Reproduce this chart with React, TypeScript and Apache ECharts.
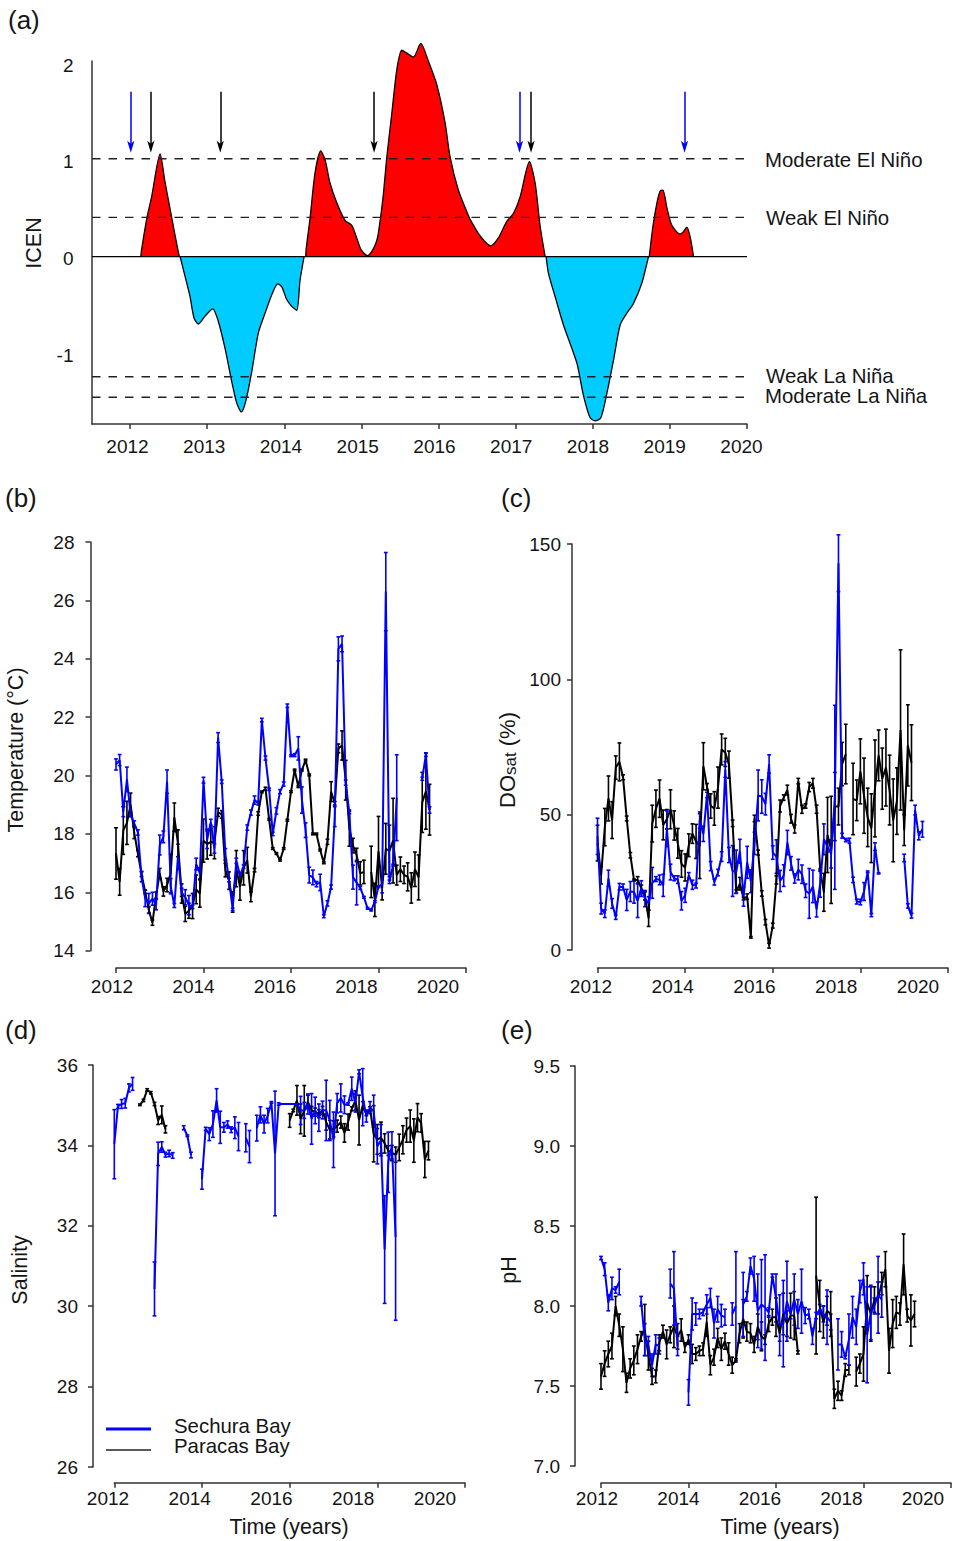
import { useEffect, useRef } from "react";
import * as echarts from "echarts";

const n = null;
const FONT = '"Liberation Sans", Arial, sans-serif';
const TEXT = "#151515";
const AXIS = "#333333";
const BLUE = "#0000ff";
const BLACK = "#000000";

// narrow barbed head, the two empty moves only widen its box
const ARROW_HEAD = "path://M0 5L0 5M10 5L10 5M5 0L8 10L5 7.5L2 10Z";

// ICEN index, one list per warm / cold lobe: [year, index]
const warm1 = [[2012.14, 0], [2012.15, 0.07], [2012.22, 0.4], [2012.28, 0.61], [2012.39, 1.05], [2012.45, 0.78], [2012.54, 0.4], [2012.62, 0.07], [2012.64, 0]];
const cold1 = [[2012.649, 0], [2012.713, -0.2], [2012.778, -0.41], [2012.83, -0.63], [2012.886, -0.69], [2012.973, -0.61], [2013.073, -0.535], [2013.145, -0.665], [2013.232, -0.94], [2013.319, -1.28], [2013.384, -1.5], [2013.444, -1.59], [2013.504, -1.47], [2013.578, -1.18], [2013.664, -0.78], [2013.751, -0.58], [2013.838, -0.39], [2013.916, -0.28], [2013.968, -0.31], [2014.032, -0.44], [2014.097, -0.51], [2014.162, -0.55], [2014.205, -0.24], [2014.257, 0]];
const warm2 = [[2014.279, 0], [2014.283, 0.07], [2014.335, 0.396], [2014.399, 0.857], [2014.473, 1.08], [2014.529, 0.99], [2014.594, 0.75], [2014.681, 0.55], [2014.788, 0.37], [2014.875, 0.32], [2014.94, 0.19], [2014.996, 0.07], [2015.077, 0.01], [2015.134, 0.05], [2015.19, 0.14], [2015.22, 0.24], [2015.28, 0.6], [2015.33, 1.02], [2015.394, 1.46], [2015.459, 1.91], [2015.524, 2.11], [2015.59, 2.08], [2015.674, 2.04], [2015.77, 2.18], [2015.868, 2.0], [2015.977, 1.76], [2016.085, 1.37], [2016.15, 1.02], [2016.257, 0.68], [2016.366, 0.46], [2016.41, 0.38], [2016.54, 0.21], [2016.678, 0.11], [2016.776, 0.19], [2016.885, 0.36], [2016.971, 0.44], [2017.058, 0.61], [2017.179, 0.97], [2017.253, 0.75], [2017.318, 0.31], [2017.383, 0]];
const cold2 = [[2017.396, 0], [2017.425, -0.17], [2017.512, -0.41], [2017.62, -0.7], [2017.794, -1.09], [2017.879, -1.42], [2017.966, -1.65], [2018.031, -1.68], [2018.105, -1.65], [2018.183, -1.4], [2018.269, -1.06], [2018.355, -0.7], [2018.442, -0.58], [2018.528, -0.48], [2018.637, -0.27], [2018.702, -0.07], [2018.723, 0]];
const warm3 = [[2018.733, 0], [2018.78, 0.31], [2018.832, 0.55], [2018.874, 0.67], [2018.91, 0.68], [2018.961, 0.5], [2019.025, 0.32], [2019.133, 0.23], [2019.17, 0.25], [2019.22, 0.3], [2019.263, 0.2], [2019.306, 0]];
const icenThresholds = [1, 0.4, -1.23, -1.44];
const sechuraArrows = [2012.01, 2017.05, 2019.19];
const paracasArrows = [2012.27, 2013.17, 2015.165, 2017.2];

// Monthly means and error half-widths from January 2012
const tempSechura = [
  20.38, 20.53, 18.76, 19.87, 18.66, 18.36, 18.05, 16.53, 15.79, 15.62,
  15.78, 15.58, 17.62, 17.9, 19.79, 16.21, 15.55, 17.22, 16.0, 15.83,
  15.56, 15.5, 16.97, 16.65, 19.84, 17.8, 18.4, 17.5, 21.3, 19.79,
  17.3, 16.42, 15.42, 17.08, 16.59, 16.88, 18.22, 18.73, 19.16, 19.05,
  21.9, 20.6, 19.53, 18.0, 18.79, 19.45, 19.71, 22.39, 20.68, 20.7,
  20.93, 19.16, 18.13, 16.59, 16.51, 16.28, 16.34, 15.18, 15.62, 16.18,
  18.59, 24.34, 24.51, 19.76, 18.73, 16.52, 16.33, 16.15, 15.83, 15.45,
  15.39, 15.68, 16.19, 16.28, 26.3, 16.36, 16.93, 19.24, n, n,
  n, n, n, n, 19.89, 20.72, 18.82,
];
const tempSechuraErr = [
  0.19, 0.19, 0.17, 0.42, 0.07, 0.09, 0.09, 0.17, 0.28, 0.34,
  0.22, 0.18, 0.34, 0.2, 0.4, 0.26, 0.07, 0.43, 0.14, 0.26,
  0.33, 0.06, 0.2, 0.19, 0.1, 0.3, 0.1, 0.16, 0.17, 0.06,
  0.2, 0.06, 0.04, 0.09, 0.06, 0.06, 0.09, 0.09, 0.14, 0.06,
  0.06, 0.07, 0.04, 0.06, 0.11, 0.07, 0.07, 0.06, 0.03, 0.05,
  0.4, 0.45, 0.25, 0.27, 0.25, 0.09, 0.28, 0.05, 0.09, 0.07,
  0.34, 0.41, 0.27, 0.09, 0.04, 0.41, 0.76, 0.05, 0.03, 0.03,
  0.03, 0.03, 0.03, 0.3, 1.34, 0.06, 0.03, 1.47, 0, 0,
  0, 0, 0, 0, 0.05, 0.06, 0.11,
];
const tempParacas = [
  17.33, 16.36, 18.12, 18.38, 19.0, 18.04, 17.33, 16.63, 16.02, 15.39,
  14.96, 15.9, 16.65, 16.03, 16.25, 16.65, 18.57, 17.68, 15.96, 15.26,
  15.37, 15.53, 16.1, 15.96, 17.77, 17.65, 17.73, 17.7, 18.74, 18.67,
  16.76, 16.4, 15.67, 16.81, 16.19, 16.84, 17.1, 15.85, 16.76, 18.7,
  19.44, 19.55, 18.5, 17.5, 17.33, 17.1, 17.5, 18.47, 19.45, 20.19,
  19.62, 20.19, 20.53, 20.02, 18.0, 18.0, 17.45, 17.01, 17.73, 19.45,
  19.05, 20.93, 21.03, 19.84, 18.2, 17.6, 17.28, 16.65, 16.7, n,
  16.7, 15.74, 17.4, 16.15, 17.49, 17.42, 17.77, 16.59, 16.79, 16.6,
  16.53, 16.15, 16.79, 16.51, 19.08, 19.46, 18.83,
];
const tempParacasErr = [
  0.88, 0.46, 0.82, 0.74, 0.4, 0.2, 0.11, 0.09, 0.06, 0.11,
  0.09, 0.11, 0.17, 0.16, 0.23, 0.66, 0.49, 0.46, 0.33, 0.26,
  0.26, 0.43, 0.49, 0.47, 0.74, 0.51, 0.46, 0.55, 0.14, 0.13,
  0.23, 0.3, 0.35, 0.62, 0.46, 0.59, 0.44, 0.17, 0.06, 0.06,
  0.03, 0.05, 0.03, 0.03, 0.03, 0.03, 0.03, 0.03, 0.03, 0.03,
  0.03, 0.03, 0.03, 0.03, 0.03, 0.03, 0.03, 0.03, 0.09, 0.34,
  0.06, 0.15, 0.5, 0.68, 0.62, 0.25, 0.23, 0.4, 0.4, 0,
  0.88, 0.57, 1.2, 0.41, 0.87, 0.88, 1.45, 0.34, 0.42, 0.3,
  0.48, 0.52, 0.59, 0.77, 1.03, 1.3, 0.87,
];
const doSechura = [
  42.0, 15.3, 13.4, 26.5, 17.2, 12.1, 23.4, 23.3, 18.5, 21.6,
  21.4, 18.2, 22.7, 19, 17.2, 24.8, 26.2, 25.9, 23.9, 44.8,
  28.8, 26.5, 26, 18.2, 20.2, 27.6, 24.1, 23.8, 48, 42.9,
  57.3, 31, 25.1, 28.6, 34.5, 66.7, 35.1, 29.2, 28.9, 36.5,
  19.7, 32.4, 25.4, 39.4, 57.1, 56.7, 53.9, 68.7, 36, 34.5,
  25.5, 27.5, 39.7, 32, 26.4, 29.7, 28, 21.9, 20.9, 23.5,
  15, 24.5, 40.9, 38.2, 35.5, 56.4, 142.9, 42.2, 40.6, 40.4,
  25.9, 17.9, 17.7, 21.6, 28.9, 12.9, 38.2, 28.3, n, n,
  n, n, n, n, 34, 16.3, 12.7, 51.7, 42.2, 44.6,
];
const doSechuraErr = [
  6.7, 2, 1.4, 3, 1.8, 0.8, 1.2, 1.1, 3.9, 3.7,
  4.1, 6.2, 2.9, 3, 2.5, 5.7, 0.9, 1.8, 4.1, 6.6,
  2.9, 0.9, 1.4, 3.4, 2.6, 1, 1.7, 0.9, 3, 2.8,
  1, 1.7, 1.1, 1.2, 1.8, 2.9, 2.8, 9.4, 8, 4.4,
  3.5, 5.9, 4.2, 4.1, 9.4, 6.2, 4, 3.4, 2.5, 6.2,
  3.9, 4, 4.5, 2.5, 1.7, 3.8, 3.4, 2.5, 9.2, 6,
  2.8, 5, 5.7, 2, 5.2, 34, 10.5, 0.9, 0.6, 0.9,
  1, 0.9, 1, 3.3, 0.3, 0.6, 1.4, 0.2, 0, 0,
  0, 0, 0, 0, 1.4, 0.8, 0.9, 1.8, 1.5, 2.9,
];
const doParacas = [
  39.5, 27.6, 45.4, 56, 48, 67.4, 69.5, 63.8, 48.6, 35,
  25.9, 25.9, 22.8, 20, 11.7, 46.7, 52.2, 55.9, 46.2, 48.3,
  52, 46, 39.4, 31.8, 30.5, 38.7, 43, 40.1, 38.4, 67.9,
  60.3, 53.2, 52.3, 60, 74.1, 73, 68.5, 46.8, 21.6, 24.5,
  19, 19.7, 4.7, 48.6, 36, 20.9, 10.3, 1.6, 9, 25.9,
  53.2, 56.3, 59.1, 48.5, 44.7, 62.4, 52, 53.2, 60.2, 61.6,
  52, 29.6, 21.3, 42.5, 37, 53, 53, 68.7, 72.4, n,
  55.8, 55.3, 66, 57, 49, 45, 59.7, 71.9, 63.3, 67.4,
  59.1, 47.9, 55, 81.3, 44.3, 75.6, 69.2,
];
const doParacasErr = [
  6.6, 3.2, 6.9, 8.3, 6.8, 4.3, 7, 0.9, 0.9, 1,
  0.3, 1.2, 1.2, 1.5, 3, 6.8, 6.9, 6.9, 5.5, 3.6,
  7.2, 5.4, 5.5, 4.9, 5, 4.2, 3.6, 6.3, 12, 8.7,
  1.2, 4.5, 6.2, 7.6, 5.7, 5.2, 5, 1.2, 0.6, 2.3,
  0.5, 1, 0.3, 1.2, 0.9, 1, 1, 0.9, 0.9, 1.5,
  2.2, 1, 1.8, 1.6, 1.5, 1, 1.5, 0.8, 1.7, 1.8,
  1.5, 0.5, 7, 13.9, 19.8, 12.6, 6.8, 8, 11, 0,
  13.2, 7.5, 12, 13.9, 10.8, 12.7, 17.9, 9.4, 11.3, 14.2,
  12.9, 15.3, 12.3, 29.6, 5.7, 15, 14,
];
const salSechura = [
  34.03, 34.97, 35.03, 35.05, 35.43, 35.53, n, n, n, n,
  n, 30.43, 33.79, 33.96, 33.77, 33.8, 33.75, n, n, 34.44,
  34.24, 33.76, n, n, 33.16, 34.41, 34.28, 34.53, 35.12, 34.45,
  34.45, 34.52, 34.39, 34.44, 34.22, n, 34.19, 33.97, n, 34.43,
  34.76, 34.53, 34.74, 35.07, 33.8, 35.03, 35.03, 35.03, 35.03, 35.03,
  35.03, 34.87, 34.87, 35.03, 34.66, 34.87, 34.69, 34.88, 34.87, 34.62,
  34.14, 35.05, 35.18, 35.01, 35.03, 35.41, 35.06, 35.83, 35.2, 34.73,
  34.94, 34.85, 33.98, 34.13, 31.41, 33.58, 34, 31.72,
];
const salSechuraErr = [
  0.86, 0.05, 0.11, 0.12, 0.1, 0.16, 0, 0, 0, 0,
  0, 0.67, 0.29, 0.13, 0.06, 0.08, 0.07, 0, 0, 0.05,
  0.02, 0.07, 0, 0, 0.25, 0.04, 0.16, 0.33, 0.29, 0.4,
  0.12, 0.09, 0.07, 0.27, 0.35, 0, 0.35, 0.4, 0, 0.32,
  0.2, 0.22, 0.18, 0.02, 1.55, 0.03, 0, 0, 0, 0,
  0, 0.35, 0.2, 0.25, 0.63, 0.33, 0.34, 0.22, 0.75, 0.5,
  0.69, 0.24, 0.35, 0.22, 0.03, 0.29, 0.23, 0.05, 0.71, 0.15,
  0.15, 0.4, 0.44, 0.39, 1.34, 0.75, 0.34, 2.07,
];
const salParacas = [
  n, n, n, n, n, n, n, 35.01, 35.12, 35.38,
  35.31, 35.03, 34.62, 34.76, 34.4, n, n, n, n, n,
  n, n, n, n, n, n, n, n, n, n,
  n, n, n, n, n, n, n, n, n, n,
  n, n, n, n, n, n, n, n, 34.62, 34.87,
  35.12, 34.66, 34.86, 35.08, 34.87, 34.83, 34.79, 34.87, 34.58, 34.39,
  34.41, 34.48, 34.58, 34.31, 34.58, 34.91, 35.12, 34.63, 34.99, 34.79,
  34.91, 34.29, 34.15, 34.19, 34.05, 33.87, 33.81, 33.77, 33.95, 34.14,
  34.38, 34.48, 34.12, 34.69, 34.56, 33.65, 33.87,
];
const salParacasErr = [
  0, 0, 0, 0, 0, 0, 0, 0.02, 0.03, 0.03,
  0.03, 0.04, 0.1, 0.22, 0.09, 0, 0, 0, 0, 0,
  0, 0, 0, 0, 0, 0, 0, 0, 0, 0,
  0, 0, 0, 0, 0, 0, 0, 0, 0, 0,
  0, 0, 0, 0, 0, 0, 0, 0, 0.17, 0.03,
  0.37, 0.37, 0.63, 0.17, 0.1, 0.1, 0.1, 0.1, 0.2, 0.23,
  0.2, 0.15, 0.15, 0.23, 0.2, 0.05, 0.24, 0.62, 0.1, 0.05,
  0.05, 0.7, 0.37, 0.39, 0.24, 0.12, 0.19, 0.19, 0.33, 0.35,
  0.3, 0.4, 0.54, 0.35, 0.23, 0.45, 0.23,
];
const phSechura = [
  8.3, 8.23, 8.02, 8.11, 8.1, 8.15, n, n, n, n,
  n, 8.03, 7.79, 7.75, 7.63, 7.76, 7.75, n, n, 8.14,
  8.11, 7.75, n, n, 7.46, 7.95, 7.95, 7.95, 7.96, 8.01,
  8.05, 7.89, 7.98, 7.94, 7.93, n, 7.95, 8, n, 8.01,
  8.06, 8.25, 8.17, 7.97, 8.01, 7.99, 7.96, 8.19, 8.05, 7.88,
  7.89, 8.03, 7.95, 8.04, 7.95, 8.03, 7.94, 7.95, 7.81, 7.94,
  7.98, 7.95, 7.93, 7.9, n, 7.76, 7.76, 7.68, 7.79, 7.93,
  7.87, 8.09, 8.17, 7.82, 7.96, 8.0, 8.07, 8.04,
];
const phSechuraErr = [
  0.01, 0.04, 0.05, 0.07, 0.02, 0.08, 0, 0, 0, 0,
  0, 0.03, 0.1, 0.06, 0.07, 0.06, 0.05, 0, 0, 0.09,
  0.23, 0.06, 0, 0, 0.08, 0.1, 0.07, 0.03, 0.02, 0.06,
  0.06, 0.09, 0.08, 0.07, 0.05, 0, 0.07, 0.34, 0, 0.2,
  0.03, 0.05, 0.14, 0.23, 0.28, 0.33, 0.03, 0.01, 0.15, 0.19,
  0.27, 0.25, 0.03, 0.16, 0.09, 0.2, 0.05, 0.03, 0.05, 0.02,
  0.03, 0.05, 0.17, 0.05, 0, 0.16, 0.08, 0.01, 0.16, 0.13,
  0.11, 0.07, 0.1, 0.3, 0.17, 0.05, 0.24, 0.11,
];
const phParacas = [
  7.56, 7.64, 7.7, 7.75, 8, 7.88, 7.73, 7.52, 7.61, 7.66,
  7.73, 7.81, 7.85, 7.69, 7.56, 7.56, 7.77, 7.84, 7.76, 7.82,
  7.87, 7.81, 7.85, 7.74, 7.79, 7.7, 7.7, 7.72, 7.73, 7.9,
  7.63, 7.68, 7.8, 7.73, 7.78, 7.7, 7.63, 7.66, 7.83, 7.92,
  7.84, 7.83, 7.76, 7.87, 7.81, 7.79, 7.89, 7.93, 7.93, 7.83,
  7.95, 7.89, 7.94, 7.94, 7.71, n, n, n, n, 8.19,
  8, 7.9, 7.97, 7.95, 7.42, 7.47, 7.44, 7.6, 7.6, n,
  7.59, 7.64, 7.7, 8.02, 7.95, 8.04, 8.05, 8.14, 8.23, 7.72,
  7.89, 7.96, 7.95, 8.26, 7.94, 7.91, 7.95,
];
const phParacasErr = [
  0.08, 0.08, 0.08, 0.08, 0.06, 0.07, 0.14, 0.06, 0.06, 0.09,
  0.09, 0.03, 0.16, 0.09, 0.05, 0.04, 0.05, 0.04, 0.09, 0.05,
  0.13, 0.08, 0.07, 0.03, 0.03, 0.06, 0.04, 0.03, 0.04, 0.09,
  0.06, 0.05, 0.06, 0.07, 0.05, 0.07, 0.05, 0.01, 0.06, 0.12,
  0.06, 0.06, 0.05, 0.08, 0.09, 0.03, 0.05, 0.05, 0.12, 0.05,
  0.13, 0.08, 0.14, 0.15, 0.01, 0, 0, 0, 0, 0.49,
  0.16, 0.1, 0.09, 0.14, 0.06, 0.06, 0.03, 0.04, 0.03, 0,
  0.09, 0.06, 0.17, 0.17, 0.17, 0.08, 0.1, 0.07, 0.11, 0.14,
  0.15, 0.1, 0.07, 0.19, 0.04, 0.16, 0.08,
];

const monthYear = (i: number) => 2012 + i / 12;

const errorBarItem = (color: string) => (_params: any, api: any) => {
  const x = api.value(0);
  const lo = api.coord([x, api.value(1)]);
  const hi = api.coord([x, api.value(2)]);
  const style = { stroke: color, lineWidth: 1.6 };
  const seg = (x1: number, y1: number, x2: number, y2: number) => ({
    type: "line",
    shape: { x1, y1, x2, y2 },
    style,
    silent: true,
  });
  return {
    type: "group",
    children: [
      seg(lo[0], lo[1], hi[0], hi[1]),
      seg(lo[0] - 1.9, lo[1], lo[0] + 1.9, lo[1]),
      seg(hi[0] - 1.9, hi[1], hi[0] + 1.9, hi[1]),
    ],
  };
};

// mean line + error bars for one bay
const baySeries = (means: any[], errs: number[], color: string, index: number, width: number) => {
  const bars = means
    .map((m, i) => (m == null ? null : [monthYear(i), m - errs[i], m + errs[i]]))
    .filter(Boolean);
  return [
    {
      type: "custom",
      xAxisIndex: index,
      yAxisIndex: index,
      clip: false,
      silent: true,
      renderItem: errorBarItem(color),
      encode: { x: 0, y: [1, 2] },
      data: bars,
    },
    {
      type: "line",
      xAxisIndex: index,
      yAxisIndex: index,
      clip: false,
      silent: true,
      showSymbol: false,
      connectNulls: false,
      lineStyle: { color, width },
      data: means.map((m, i) => [monthYear(i), m == null ? "-" : m]),
    },
  ];
};

const textEl = (text: string, x: number, y: number, size: number, extra: any = {}) => ({
  type: "text",
  x,
  y,
  rotation: extra.rotation || 0,
  silent: true,
  style: {
    text,
    fontSize: size,
    fontFamily: FONT,
    fill: TEXT,
    textAlign: extra.align || "left",
    textVerticalAlign: "middle",
    rich: extra.rich,
  },
});

const legendLine = (y: number, color: string, lineWidth: number) => ({
  type: "line",
  silent: true,
  shape: { x1: 106, y1: y, x2: 151, y2: y },
  style: { stroke: color, lineWidth },
});

const axisLineStyle = { onZero: false, lineStyle: { color: AXIS, width: 1.5 } };
const tickStyle = { show: true, length: 5, lineStyle: { color: AXIS, width: 1.5 } };
const tickFont = { color: TEXT, fontFamily: FONT, fontSize: 19 };

// panels b-e: axes stand off from the plot, R style
const panels = [
  { left: 116, right: 466, top: 542, bottom: 950.7, yOff: 25.5, xOff: 17.3, min: 14, max: 28, step: 2, lab: [112, 438], labMargin: 9, yMargin: 16, dp: 0 },
  { left: 597.5, right: 948, top: 544, bottom: 950, yOff: 25.5, xOff: 18, min: 0, max: 150, step: 50, lab: [591, 918], labMargin: 9, yMargin: 11, dp: 0 },
  { left: 114.3, right: 465, top: 1065, bottom: 1467, yOff: 21.3, xOff: 15.7, min: 26, max: 36, step: 2, lab: [108, 435], labMargin: 6, yMargin: 15, dp: 0 },
  { left: 601, right: 951, top: 1066, bottom: 1466, yOff: 26, xOff: 17, min: 7, max: 9.5, step: 0.5, lab: [597, 923], labMargin: 6, yMargin: 15, dp: 1 },
];

export default function App() {
  const chartRef = useRef<HTMLDivElement>(null);

  useEffect(() => {
    if (!chartRef.current) return;
    const chart = echarts.init(chartRef.current, null, { renderer: "svg" });

    const grid: any[] = [];
    const xAxis: any[] = [];
    const yAxis: any[] = [];

    // index 0: panel (a), data axes
    const aMin = 2011.507;
    grid.push({ left: 92, top: 61, width: 655, height: 363 });
    xAxis.push({
      type: "value",
      gridIndex: 0,
      min: aMin,
      max: 2020,
      axisLine: axisLineStyle,
      axisTick: { ...tickStyle, customValues: [2012, 2013, 2014, 2015, 2016, 2017, 2018, 2019, 2020] },
      axisLabel: { show: false },
      splitLine: { show: false },
    });
    yAxis.push({
      type: "value",
      gridIndex: 0,
      min: -1.713,
      max: 2,
      axisLine: { show: true, ...axisLineStyle },
      axisTick: { show: false },
      axisLabel: { show: false },
      splitLine: { show: false },
    });

    // index 1: panel (a), tick labels sit a little off the ticks in the figure
    grid.push({ left: 127.5, top: 65, width: 614, height: 290 });
    xAxis.push({
      type: "value",
      gridIndex: 1,
      min: 2012,
      max: 2020,
      interval: 1,
      offset: 69,
      axisLine: { show: false, onZero: false },
      axisTick: { show: false },
      axisLabel: { ...tickFont, margin: 13, formatter: (v: number) => String(v), hideOverlap: false },
      splitLine: { show: false },
    });
    yAxis.push({
      type: "value",
      gridIndex: 1,
      min: -1,
      max: 2,
      interval: 1,
      offset: 35,
      axisLine: { show: false },
      axisTick: { show: false },
      axisLabel: { ...tickFont, margin: 19 },
      splitLine: { show: false },
    });

    const series: any[] = [];
    const spanDashed = icenThresholds.map((v) => ({
      type: "line",
      xAxisIndex: 0,
      yAxisIndex: 0,
      silent: true,
      showSymbol: false,
      lineStyle: { color: "#222222", width: 1.4, type: [8.5, 8] },
      z: 4,
      data: [[aMin, v], [2020, v]],
    }));

    const lobe = (data: number[][], color: string) => ({
      type: "line",
      xAxisIndex: 0,
      yAxisIndex: 0,
      clip: false,
      silent: true,
      showSymbol: false,
      smooth: 0.25,
      lineStyle: { color: BLACK, width: 1.3 },
      areaStyle: { color, opacity: 1 },
      z: 2,
      data,
    });
    [warm1, warm2, warm3].forEach((d) => series.push(lobe(d, "#ff0000")));
    [cold1, cold2].forEach((d) => series.push(lobe(d, "#00ccff")));
    series.push(...spanDashed);
    series.push({
      type: "line",
      xAxisIndex: 0,
      yAxisIndex: 0,
      silent: true,
      showSymbol: false,
      lineStyle: { color: BLACK, width: 1.3 },
      z: 5,
      data: [[aMin, 0], [2020, 0]],
    });

    const arrows = (years: number[], color: string) => ({
      type: "line",
      xAxisIndex: 0,
      yAxisIndex: 0,
      silent: true,
      showSymbol: false,
      data: [],
      markLine: {
        silent: true,
        symbol: ["none", ARROW_HEAD],
        symbolSize: 12,
        label: { show: false },
        lineStyle: { color, width: 1.5, type: "solid" },
        data: years.map((y) => [{ coord: [y, 1.686] }, { coord: [y, 1.123] }]),
      },
    });
    series.push(arrows(paracasArrows, BLACK), arrows(sechuraArrows, BLUE));

    // panels b-e, each with a data grid and a label grid
    const panelData = [
      [tempParacas, tempParacasErr, tempSechura, tempSechuraErr],
      [doParacas, doParacasErr, doSechura, doSechuraErr],
      [salParacas, salParacasErr, salSechura, salSechuraErr],
      [phParacas, phParacasErr, phSechura, phSechuraErr],
    ];
    panels.forEach((p, k) => {
      const dataIdx = grid.length;
      grid.push({ left: p.left, top: p.top, width: p.right - p.left, height: p.bottom - p.top });
      xAxis.push({
        type: "value",
        gridIndex: dataIdx,
        min: 2012,
        max: 2020,
        interval: 2,
        offset: p.xOff,
        axisLine: axisLineStyle,
        axisTick: tickStyle,
        axisLabel: { show: false },
        splitLine: { show: false },
      });
      yAxis.push({
        type: "value",
        gridIndex: dataIdx,
        min: p.min,
        max: p.max,
        interval: p.step,
        offset: p.yOff,
        axisLine: { show: true, ...axisLineStyle },
        axisTick: tickStyle,
        axisLabel: {
          ...tickFont,
          margin: p.yMargin,
          formatter: (v: number) => v.toFixed(p.dp),
        },
        splitLine: { show: false },
      });

      const labelIdx = grid.length;
      grid.push({ left: p.lab[0], top: p.bottom, width: p.lab[1] - p.lab[0], height: p.xOff });
      xAxis.push({
        type: "value",
        gridIndex: labelIdx,
        min: 2012,
        max: 2020,
        interval: 2,
        axisLine: { show: false, onZero: false },
        axisTick: { show: false },
        axisLabel: { ...tickFont, margin: p.labMargin, formatter: (v: number) => String(v) },
        splitLine: { show: false },
      });
      yAxis.push({
        type: "value",
        gridIndex: labelIdx,
        min: 0,
        max: 1,
        show: false,
      });

      const [bm, be, sm, se] = panelData[k] as any[];
      series.push(...baySeries(bm, be, BLACK, dataIdx, 2));
      series.push(...baySeries(sm, se, BLUE, dataIdx, 2));
    });

    const graphic = [
      textEl("(a)", 8, 20, 26),
      textEl("(b)", 5, 498, 26),
      textEl("(c)", 501, 498, 26),
      textEl("(d)", 5, 1030, 26),
      textEl("(e)", 501, 1030, 26),
      textEl("Moderate El Niño", 765, 160, 20.4),
      textEl("Weak El Niño", 766, 218, 20.4),
      textEl("Weak La Niña", 766, 376, 20.4),
      textEl("Moderate La Niña", 765, 396, 20.4),
      textEl("ICEN", 34, 243, 21.5, { rotation: Math.PI / 2, align: "center" }),
      textEl("Temperature (°C)", 16, 750, 21.5, { rotation: Math.PI / 2, align: "center" }),
      textEl("{a|DO}{b|sat}{a| (%)}", 507, 760, 22, {
        rotation: Math.PI / 2,
        align: "center",
        rich: {
          a: { fontSize: 22, fontFamily: FONT, fill: TEXT },
          b: { fontSize: 17, fontFamily: FONT, fill: TEXT, verticalAlign: "bottom", padding: [6, 0, 0, 0] },
        },
      }),
      textEl("Salinity", 20, 1270, 21.5, { rotation: Math.PI / 2, align: "center" }),
      textEl("pH", 509, 1270, 21.5, { rotation: Math.PI / 2, align: "center" }),
      textEl("Time (years)", 289, 1527, 21.4, { align: "center" }),
      textEl("Time (years)", 780, 1527, 21.4, { align: "center" }),
      legendLine(1429, BLUE, 3),
      legendLine(1450, "#222222", 1.5),
      textEl("Sechura Bay", 174, 1426, 20.4),
      textEl("Paracas Bay", 174, 1446, 20.4),
    ];

    chart.setOption({
      animation: false,
      backgroundColor: "#ffffff",
      grid,
      xAxis,
      yAxis,
      series,
      graphic,
    });

    return () => chart.dispose();
  }, []);

  return (
    <div
      ref={chartRef}
      style={{ position: "absolute", left: 0, top: 0, width: 956, height: 1541 }}
    />
  );
}
